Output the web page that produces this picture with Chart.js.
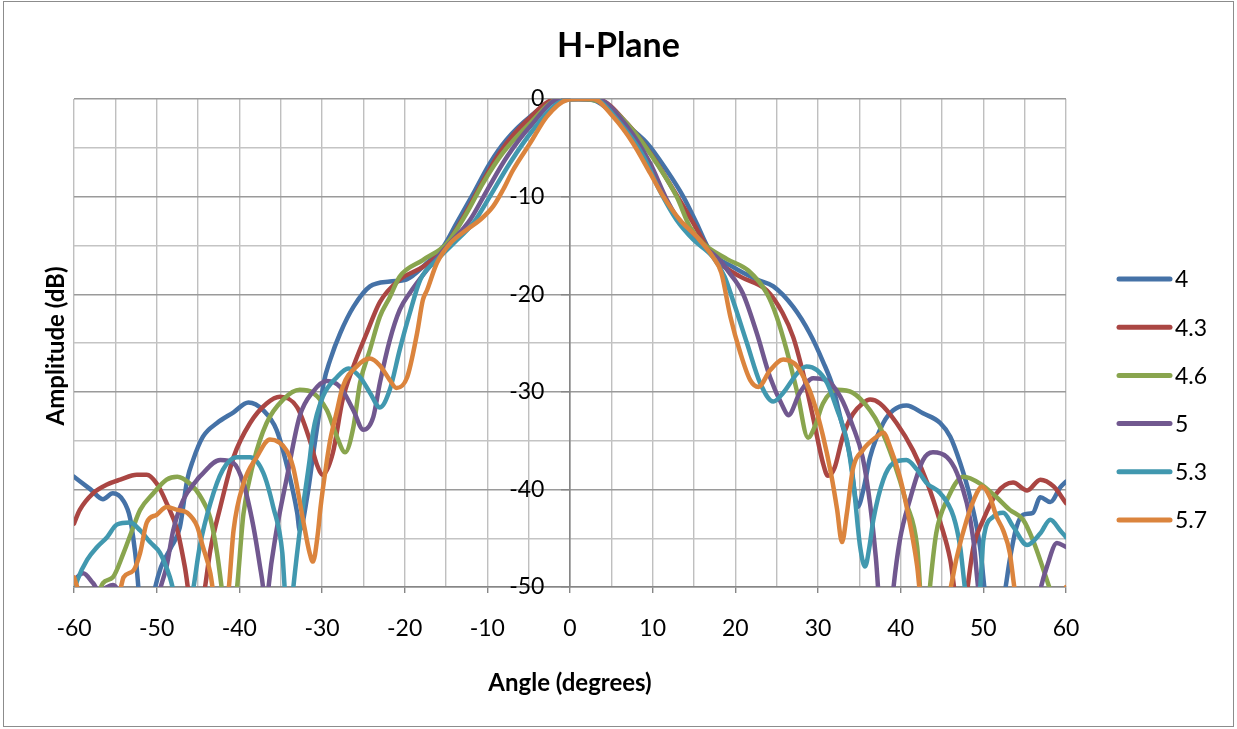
<!DOCTYPE html>
<html>
<head>
<meta charset="utf-8">
<script src="https://cdn.jsdelivr.net/npm/chart.js@4/dist/chart.umd.min.js"></script>
<style>
html,body{margin:0;padding:0;background:#fff;}
#wrap{width:1237px;height:729px;position:relative;}
</style>
</head>
<body>
<div id="wrap"><canvas id="c"></canvas></div>
<script>
// ---- Data (angle in degrees, amplitude in dB) ----
const seriesLabels = ['4', '4.3', '4.6', '5', '5.3', '5.7'];
const seriesColors = ['#4572A7', '#AA4643', '#89A54E', '#71588F', '#4198AF', '#DB843D'];

const ang4 = [-60,-58,-56.5,-55.3,-54,-53.2,-52.6,-51.4,-50.3,-49.5,-48.3,-47.2,-46.3,-45.6,-44.4,-42.7,-40.7,-38.9,-37.1,-35.5,-34.2,-33,-32.7,-31.8,-31,-30.3,-29.8,-29,-27.8,-26.2,-24.2,-21.8,-19.8,-17.3,-15.3,-13.7,-11.7,-9.7,-7.7,-4.8,-1.6,1,2.8,6.1,9.3,11.7,13.7,15.3,16.9,19.7,22.6,24.6,27,29,30.6,31.8,32.7,33.9,34.8,35.5,36.3,37.9,39.1,40.7,42.7,44.8,46,47.2,48.4,49.6,50.4,51.5,52.6,53.2,54,54.8,56,56.9,58.1,59.3,60];
const amp4 = [-38.7,-40,-41,-40.4,-41.2,-43,-46.5,-56,-50.5,-48,-46,-43.9,-39,-37,-34.6,-33.2,-32.1,-31.1,-31.9,-33.9,-37.7,-42.4,-44.2,-40.8,-36,-32,-29.1,-26.7,-24,-21.3,-19.2,-18.7,-18.5,-16.8,-15.1,-12.7,-9.7,-6.6,-4.2,-1.8,-0.1,0,-0.1,-2.2,-4.5,-7.3,-10,-12.7,-15.5,-17.2,-18.5,-19.2,-21.3,-24,-26.9,-29.5,-32.6,-36.7,-41.8,-40,-36.7,-33.2,-31.9,-31.4,-32.2,-33.2,-34.6,-37.3,-40.8,-45.9,-52,-55,-50.5,-47.2,-43.9,-42.6,-42.4,-40.8,-41.3,-39.8,-39.2];

const ang43 = [-60,-59.3,-57.7,-56,-54.4,-52.4,-51.2,-50,-48.8,-47.5,-46.6,-45.2,-44.2,-43.5,-42.3,-40.7,-38.7,-36.7,-35.1,-33,-31.5,-30.6,-29.9,-28.7,-27.5,-26.2,-24.6,-23,-20.6,-17.8,-15.4,-12.9,-10.9,-8.5,-5.2,-1.6,1,3.6,6.9,10,12.5,14.9,16.6,18.1,20.6,23.8,25.7,27,28.2,29.4,30.6,31.2,32,33,34.2,35.4,36.3,37.5,39.5,41.5,43.2,44.8,46,47.4,48.1,48.8,50,51.6,53.6,55.3,56.9,58.5,60];
const amp43 = [-43.5,-42.1,-40.4,-39.5,-39,-38.5,-38.5,-39.4,-41.4,-44.2,-47.9,-55,-50.3,-46.2,-41.8,-36.7,-33.2,-31.2,-30.5,-31.6,-34.9,-37.5,-38.5,-36.3,-30.8,-27.4,-24,-20.8,-18.5,-17.2,-15.5,-12.1,-9,-5.5,-2.2,0,0,-0.1,-2.5,-5.9,-9.3,-12.7,-15.2,-16.8,-18.2,-19.6,-21.9,-24.4,-28.1,-32.6,-37.3,-38.6,-37.8,-34.6,-32.3,-31.2,-30.8,-31.2,-33.2,-36,-39.3,-43.4,-47.2,-55,-50,-45.9,-43.1,-40.4,-39.3,-40.1,-39,-39.7,-41.4];

const ang46 = [-60,-57.5,-56.5,-55.3,-54,-52.8,-52,-50.4,-48.8,-47.5,-46,-44.8,-43.5,-42.7,-42.1,-41.2,-40.3,-39.5,-38.3,-36.7,-34.7,-32.7,-31.1,-29.4,-28.2,-27.2,-26.2,-25.4,-24.2,-23,-21.8,-20.6,-17.8,-14.9,-12.5,-10.5,-8.1,-5.2,-1.2,1,4,7.6,10.8,12.9,14.5,16.1,19,21.6,23.8,25,26.2,27.5,28.8,29.6,30.6,32.3,34.2,36.3,37.5,39.1,40.7,42,42.9,43.6,44.3,45.6,47.6,49.6,51.6,53.2,54.8,56,57.3,58.1,60];
const amp46 = [-58,-52,-49.6,-49,-46.5,-43.8,-42.1,-40.4,-39,-38.7,-39.4,-40.6,-43,-46.5,-50.3,-56,-50.3,-42.5,-37.3,-33.2,-30.8,-29.8,-30.1,-31.9,-34.6,-36.2,-33.6,-29.1,-25.7,-22.3,-20.3,-18.2,-16.5,-14.8,-11.7,-8.6,-5.5,-2.8,0,0,-0.4,-3.2,-7,-10,-13.1,-14.8,-16.4,-17.6,-19.9,-22.3,-25.7,-30.1,-34.7,-33.6,-31.2,-29.8,-30.1,-31.9,-33.6,-37,-41.4,-45.9,-56,-49.5,-44.5,-41.1,-38.7,-39.4,-40.8,-42.1,-43.1,-45.2,-48.3,-50.3,-54];

const ang5 = [-60,-58.9,-57.7,-56.9,-56,-55.3,-54.6,-53,-51.5,-50,-49.6,-48.8,-48,-46.8,-45.1,-44.8,-42.3,-40.7,-39.5,-38.3,-37.5,-37.1,-36.8,-36.5,-35.5,-34.3,-32.7,-31.1,-29.4,-27.8,-26.2,-25,-23.8,-23,-21.8,-20.6,-19.4,-17.3,-14.9,-12.1,-10,-7.6,-4.8,-1.2,1,3.2,6.9,9.7,11.7,13.7,15.7,18.1,19,20.9,22.6,24.2,25.8,26.4,27.8,29.4,31,32.7,34.2,35.4,36.3,37,37.8,38.6,39.1,39.9,41.1,42.7,43.9,45.6,46.8,48,48.8,49.4,50.5,53,56,56.9,57.7,58.9,60];
const amp5 = [-49.3,-48.6,-49.6,-50.5,-50,-49.8,-50.5,-55,-56,-52,-50.3,-47.9,-44.2,-41.1,-39,-38.7,-37,-37.3,-39.4,-43.8,-47.9,-50.3,-54,-50.3,-44.2,-39,-32.5,-30,-28.9,-29.5,-31.9,-33.9,-32.6,-29.1,-24.7,-21.6,-19.9,-17.5,-15.1,-12.4,-9.3,-5.9,-2.8,0,0,0,-2.8,-6.6,-10.3,-13.1,-14.8,-16.5,-17.5,-19.9,-24,-28.5,-31.6,-32.4,-30.1,-28.6,-28.8,-30.5,-33.5,-36.7,-41.5,-47,-55,-55,-50.3,-45.2,-41.1,-37,-36.2,-36.7,-38.3,-41.4,-45.2,-50.3,-57,-58,-55,-50.3,-47.9,-45.5,-45.9];

const ang53 = [-60,-59.6,-58.4,-57.2,-56,-54.8,-53.2,-52,-50.8,-49.6,-48.4,-48,-46.8,-45.6,-44.8,-43.5,-42,-40.3,-38.7,-37.1,-35.9,-34.8,-34.5,-34,-33.5,-32.5,-31.5,-31.1,-29.9,-28.2,-26.8,-25.4,-24.2,-23,-21.8,-20.6,-19.4,-18.1,-16.1,-14.1,-11.7,-9.7,-7.3,-4.5,-1.2,1,2.8,6.1,8.9,10.8,12.9,14.9,17.3,18.7,19.7,21.4,23,24.6,25.8,27.5,28.6,29.9,31.1,32.3,33.5,34.3,35.1,35.7,36.2,36.7,37.9,39.1,40.7,42,43.2,44.8,46.4,47.2,47.8,48.7,49.6,50,51.2,52.4,53.6,55.3,56.9,58.1,59.3,60];
const amp53 = [-50.5,-49.3,-47.2,-45.9,-44.9,-43.6,-43.4,-44.2,-45.4,-46.5,-49,-50.3,-55,-50.3,-45.9,-41.4,-38,-36.7,-36.7,-38.3,-41.8,-46.5,-50.3,-55,-50.3,-43,-37,-34.2,-30.5,-28.5,-27.6,-28.5,-30.1,-31.6,-29.8,-25.7,-22,-18.5,-16.5,-14.8,-12.7,-10,-6.6,-3.2,-0.3,0,0,-2.5,-5.9,-9.3,-12.4,-14.4,-16.2,-18.2,-20.6,-25,-29.1,-31,-30.1,-28.1,-27.4,-27.8,-29.1,-31.8,-35,-39.5,-45.9,-47.9,-46,-43.1,-39,-37.3,-37,-38,-39.4,-40.4,-42.8,-45.9,-50.3,-55,-50.3,-45.2,-42.8,-42.4,-43.8,-45.7,-44.5,-43.1,-44.2,-44.9];

const ang57 = [-60,-59.5,-57,-54.4,-54,-52.8,-52,-51.2,-50,-48.8,-47.5,-46.3,-45.1,-44.4,-43.5,-43.2,-42.3,-41.3,-40.7,-39.5,-37.9,-36.3,-34.3,-33.5,-32.3,-31.5,-31.1,-30.5,-30.2,-29.4,-29,-28.2,-27.5,-25.8,-24.2,-23,-21.8,-21,-19.7,-18.5,-17.8,-17.3,-16.1,-14.5,-12.5,-10.9,-9.3,-8.1,-6.9,-4.8,-2.8,-0.4,1,2.8,5.2,7.6,9.7,11.3,13.3,15.3,17.3,18.3,19.4,20.6,21.8,22.8,24.2,25.8,27.5,28.6,29.4,30.6,31.6,32.3,32.9,33.5,34.2,35.4,37.1,37.9,38.7,39.9,41.1,42,42.3,44,46,46.8,48,49.2,49.8,50.8,51.6,52.4,53.2,53.8,56,59,60];
const amp57 = [-49,-50.3,-57,-50.3,-49,-48.3,-46.5,-43.4,-42.6,-41.8,-42.1,-42.4,-43.8,-45.9,-48.6,-50.3,-55,-50.3,-44.2,-39.4,-36.7,-34.9,-36,-37.7,-43.1,-46.5,-47.4,-44.5,-42,-37,-34.9,-32,-29.5,-27.4,-26.6,-27.3,-28.8,-29.6,-28.5,-24,-20.6,-19.6,-16.8,-14.8,-13.4,-12.4,-11,-9.3,-7.3,-4.5,-1.8,-0.1,0,0,-1.8,-4.5,-7.6,-10,-12.4,-14.1,-16.2,-17.8,-22.3,-26,-28.8,-29.5,-27.8,-26.7,-27.4,-29.1,-30.8,-34.5,-38.5,-42,-45.4,-42.4,-38,-36,-34.6,-34.2,-35.6,-38.7,-43.4,-47.9,-50.3,-57,-50.3,-46.9,-43.1,-40.4,-39.7,-40.8,-42.8,-44.2,-46.5,-50.3,-58,-55,-50];

// x / y tick settings
const xMin = -60, xMax = 60, xStep = 5, xLabelEvery = 10;
const yMin = -50, yMax = 0, yStep = 5, yLabelEvery = 10;

const chartTitle = 'H-Plane';
const xTitle = 'Angle (degrees)';
const yTitle = 'Amplitude (dB)';

const angleSets = [ang4, ang43, ang46, ang5, ang53, ang57];
const ampSets = [amp4, amp43, amp46, amp5, amp53, amp57];

const FONT = 'Lato, "Open Sans", sans-serif';

const datasets = seriesLabels.map((lab, i) => ({
  label: lab,
  data: angleSets[i].map((a, k) => ({x: a, y: ampSets[i][k]})),
  borderColor: seriesColors[i],
  backgroundColor: seriesColors[i],
  borderWidth: 4.5,
  pointRadius: 0,
  cubicInterpolationMode: 'monotone',
  fill: false,
  clip: 0,
  yAxisID: 'y',
  order: seriesLabels.length - i,
  borderCapStyle: 'round',
  borderJoinStyle: 'round'
}));

const deco = {
  id: 'deco',
  beforeDraw(chart) {
    const c = chart.ctx;
    c.save();
    c.fillStyle = '#ffffff';
    c.fillRect(0, 0, chart.width, chart.height);
    c.restore();
  },
  afterDraw(chart) {
    const c = chart.ctx;
    const ca = chart.chartArea;
    c.save();
    // outer frame
    c.strokeStyle = '#8c8c8c';
    c.lineWidth = 1;
    c.strokeRect(3.5, 1.5, chart.width - 7, chart.height - 4);
    // title
    c.fillStyle = '#000';
    c.textAlign = 'center';
    c.textBaseline = 'middle';
    c.font = 'bold 34px ' + FONT;
    c.fillText(chartTitle, chart.width / 2, 46);
    // x title
    c.font = 'bold 24px ' + FONT;
    c.fillText(xTitle, (ca.left + ca.right) / 2, 683);
    // y title
    c.save();
    c.translate(56, (ca.top + ca.bottom) / 2 + 3);
    c.rotate(-Math.PI / 2);
    c.fillText(yTitle, 0, 0);
    c.restore();
    // legend
    c.textAlign = 'left';
    c.font = '23px ' + FONT;
    c.lineCap = 'round';
    seriesLabels.forEach((lab, i) => {
      const y = 279 + i * 48.2;
      c.strokeStyle = seriesColors[i];
      c.lineWidth = 5;
      c.beginPath();
      c.moveTo(1119, y);
      c.lineTo(1170, y);
      c.stroke();
      c.fillStyle = '#000';
      c.fillText(lab, 1175, y + 1);
    });
    c.restore();
  }
};

new Chart(document.getElementById('c'), {
  type: 'line',
  data: { datasets },
  options: {
    responsive: true,
    maintainAspectRatio: false,
    animation: false,
    layout: { padding: { left: 74, right: 171, top: 99, bottom: 0 } },
    plugins: { legend: { display: false }, title: { display: false }, tooltip: { enabled: false } },
    scales: {
      x: {
        type: 'linear',
        min: xMin, max: xMax,
        afterFit: (s) => { s.height = 142; },
        ticks: {
          stepSize: xStep,
          autoSkip: false,
          maxRotation: 0,
          padding: 22,
          color: '#000',
          font: { family: FONT, size: 23 },
          callback: (v) => (v % xLabelEvery === 0 ? String(v) : '')
        },
        grid: {
          color: '#bfbfbf',
          lineWidth: 1.4,
          drawTicks: true,
          tickLength: 6,
          tickColor: (ctx) => (ctx.tick && ctx.tick.value % xLabelEvery === 0 ? '#868686' : 'rgba(0,0,0,0)')
        },
        border: { display: true, color: '#868686', width: 1.6 }
      },
      y: {
        type: 'linear',
        position: { x: 0 },
        min: yMin, max: yMax,
        ticks: {
          stepSize: yStep,
          autoSkip: false,
          callback: () => ''
        },
        grid: {
          color: (ctx) => (ctx.tick && ctx.tick.value % yLabelEvery === 0 ? '#9a9a9a' : '#c4c4c4'),
          lineWidth: 1.4,
          drawTicks: true,
          tickLength: 8,
          tickColor: (ctx) => (ctx.tick && ctx.tick.value % yLabelEvery === 0 ? '#868686' : 'rgba(0,0,0,0)')
        },
        border: { display: true, color: '#868686', width: 1.6 }
      },
      yLabels: {
        type: 'linear',
        axis: 'y',
        position: { x: -3.1 },
        min: yMin, max: yMax,
        ticks: {
          stepSize: yLabelEvery,
          autoSkip: false,
          color: '#000',
          font: { family: FONT, size: 23 },
          callback: (v) => String(v)
        },
        grid: { display: false, drawTicks: false },
        border: { display: false }
      }
    }
  },
  plugins: [deco]
});
</script>
</body>
</html>
